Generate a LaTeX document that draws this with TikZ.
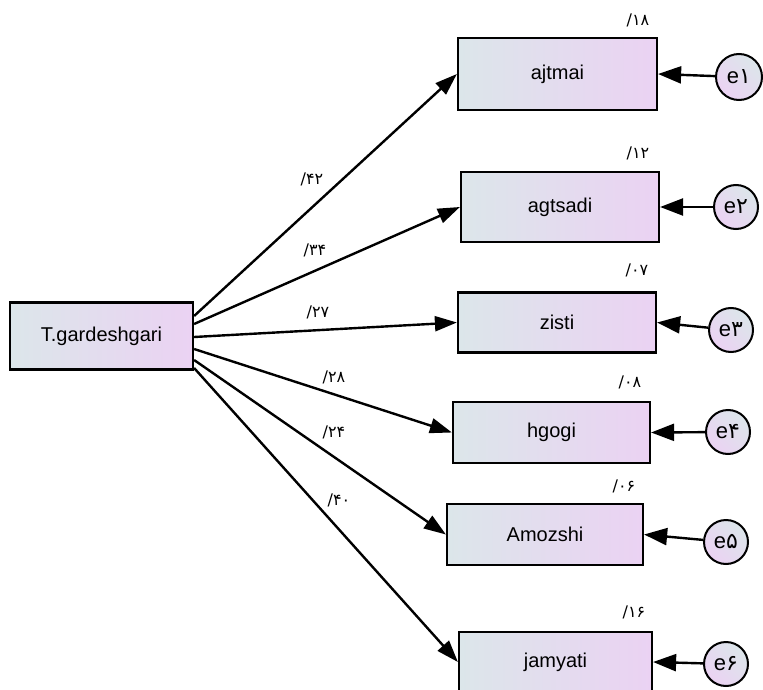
\documentclass[tikz,border=0pt]{standalone}
\usepackage{fontspec}
\setmainfont{Liberation Sans}
\newfontfamily\fa{DejaVu Sans}
\usetikzlibrary{arrows.meta,calc}
\definecolor{gl}{HTML}{DCE6EA}
\definecolor{gr}{HTML}{EBD2F3}
\begin{document}
\begin{tikzpicture}[x=1pt,y=-1pt,
  obs/.style={draw=black, line width=2.2pt, left color=gl, right color=gr,
    font=\fontsize{20}{20}\selectfont, inner sep=0pt},
  err/.style={circle, draw=black, line width=2pt, left color=gl, right color=gr,
    shading angle=-45, minimum size=44pt, inner sep=0pt,
    font=\fontsize{22}{22}\selectfont},
  lnk/.style={line width=2.4pt, -{Triangle[length=22pt,width=15pt]}},
  earr/.style={line width=2.4pt, -{Triangle[length=23pt,width=17pt]}},
  wt/.style={font=\fa\fontsize{16}{16}\selectfont, inner sep=0pt}
]
\useasboundingbox (0,0) rectangle (763,690);

% observed boxes
\node[obs, minimum width=183pt, minimum height=67pt] (tg) at (101.5,336) {T.gardeshgari};
\node[obs, minimum width=199pt, minimum height=72pt] (b1) at (557.5,74) {ajtmai};
\node[obs, minimum width=198pt, minimum height=70pt] (b2) at (560,207) {agtsadi};
\node[obs, minimum width=198pt, minimum height=60pt] (b3) at (557,322.5) {zisti};
\node[obs, minimum width=197pt, minimum height=61pt] (b4) at (551.5,432.5) {hgogi};
\node[obs, minimum width=196pt, minimum height=61pt] (b5) at (545,534.5) {Amozshi};
\node[obs, minimum width=193pt, minimum height=60pt] (b6) at (555.5,662) {jamyati};

% error circles
\node[err, minimum size=46pt] (e1) at (739,77) {e{\fa ۱}};
\node[err] (e2) at (736,207) {e{\fa ۲}};
\node[err] (e3) at (731,330) {e{\fa ۳}};
\node[err] (e4) at (728,432) {e{\fa ۴}};
\node[err] (e5) at (726,542) {e{\fa ۵}};
\node[err] (e6) at (726,664) {e{\fa ۶}};

% paths
\draw[lnk] ($(tg.east)+(0,-20)$) -- (b1.west);
\draw[lnk] ($(tg.east)+(0,-12)$) -- (b2.west);
\draw[lnk] ($(tg.east)+(0,1)$) -- (b3.west);
\draw[lnk] ($(tg.east)+(0,13)$) -- (b4.west);
\draw[lnk] ($(tg.east)+(0,24)$) -- (b5.west);
\draw[lnk] ($(tg.east)+(0,32)$) -- (b6.west);

% error arrows
\draw[earr] (e1) -- (b1.east);
\draw[earr] (e2) -- (b2.east);
\draw[earr] (e3) -- (b3.east);
\draw[earr] (e4) -- (b4.east);
\draw[earr] (e5) -- (b5.east);
\draw[earr] (e6) -- (b6.east);

% path coefficients
\node[wt] (p1) at (312,179) {/۴۲};
\node[wt] (p2) at (315,250) {/۳۴};
\node[wt] (p3) at (318,312) {/۲۷};
\node[wt] (p4) at (334,377) {/۲۸};
\node[wt] (p5) at (334,432) {/۲۴};
\node[wt] (p6) at (339,500) {/۴۰};

% squared multiple correlations
\node[wt] (r1) at (638,20) {/۱۸};
\node[wt] (r2) at (638,153) {/۱۲};
\node[wt] (r3) at (637,270) {/۰۷};
\node[wt] (r4) at (630,382) {/۰۸};
\node[wt] (r5) at (624,486) {/۰۶};
\node[wt] (r6) at (634,612) {/۱۶};
\end{tikzpicture}
\end{document}
